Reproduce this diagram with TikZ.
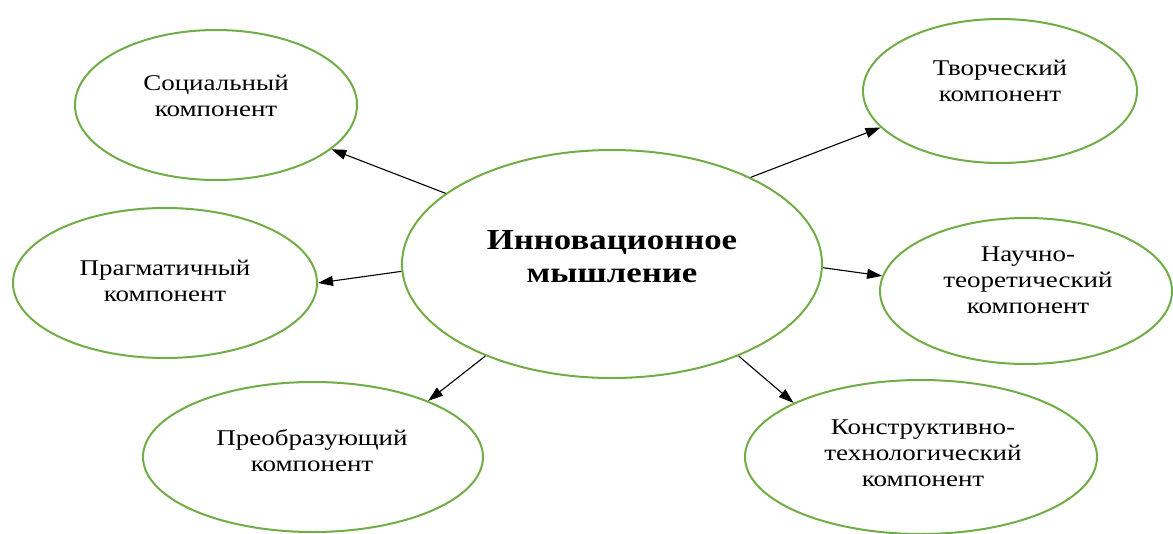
\documentclass[tikz,border=0pt]{standalone}
\usepackage{fontspec}
\setmainfont{Liberation Serif}[FakeStretch=1.2]
\usetikzlibrary{shapes.geometric,arrows.meta}
\definecolor{ovalgreen}{HTML}{70AD47}

\begin{document}
\begin{tikzpicture}[x=1pt,y=-1pt,
    comp/.style={ellipse,draw=ovalgreen,line width=2pt,inner sep=0pt},
    txt/.style={align=center,font=\fontsize{22.5}{26}\selectfont},
    arr/.style={-{Triangle[length=15pt,width=10pt]},line width=1.1pt}]
    \useasboundingbox (0,0) rectangle (1173,533);
    % centre
    \node[comp,minimum width=420,minimum height=228] (inn) at (612,264) {};
    \node[txt,font=\fontsize{29}{33}\selectfont\bfseries] (inn-t) at (612,257) {Инновационное\\мышление};
    % left side
    \node[comp,minimum width=282,minimum height=150] (soc) at (216,105) {};
    \node[txt] (soc-t) at (216,96) {Социальный\\компонент};
    \node[comp,minimum width=304,minimum height=150] (prag) at (165,283) {};
    \node[txt] (prag-t) at (165,281) {Прагматичный\\компонент};
    \node[comp,minimum width=340,minimum height=150] (preo) at (313,457) {};
    \node[txt] (preo-t) at (312,451) {Преобразующий\\компонент};
    % right side
    \node[comp,minimum width=274,minimum height=144] (tvor) at (1000,91) {};
    \node[txt] (tvor-t) at (1000,81) {Творческий\\компонент};
    \node[comp,minimum width=292,minimum height=146] (nauch) at (1026,291) {};
    \node[txt] (nauch-t) at (1028,280) {Научно-\\теоретический\\компонент};
    \node[comp,minimum width=352,minimum height=154] (konstr) at (921,457) {};
    \node[txt] (konstr-t) at (923,453) {Конструктивно-\\технологический\\компонент};
    % arrows
    \draw[arr] (inn.157) -- (soc.-21.5);
    \draw[arr] (inn.182) -- (prag.0.5);
    \draw[arr] (inn.216.3) -- (preo.26.6);
    \draw[arr] (inn.32) -- (tvor.197);
    \draw[arr] (inn.-1) -- (nauch.174.5);
    \draw[arr] (inn.-36.6) -- (konstr.157.6);
\end{tikzpicture}
\end{document}
